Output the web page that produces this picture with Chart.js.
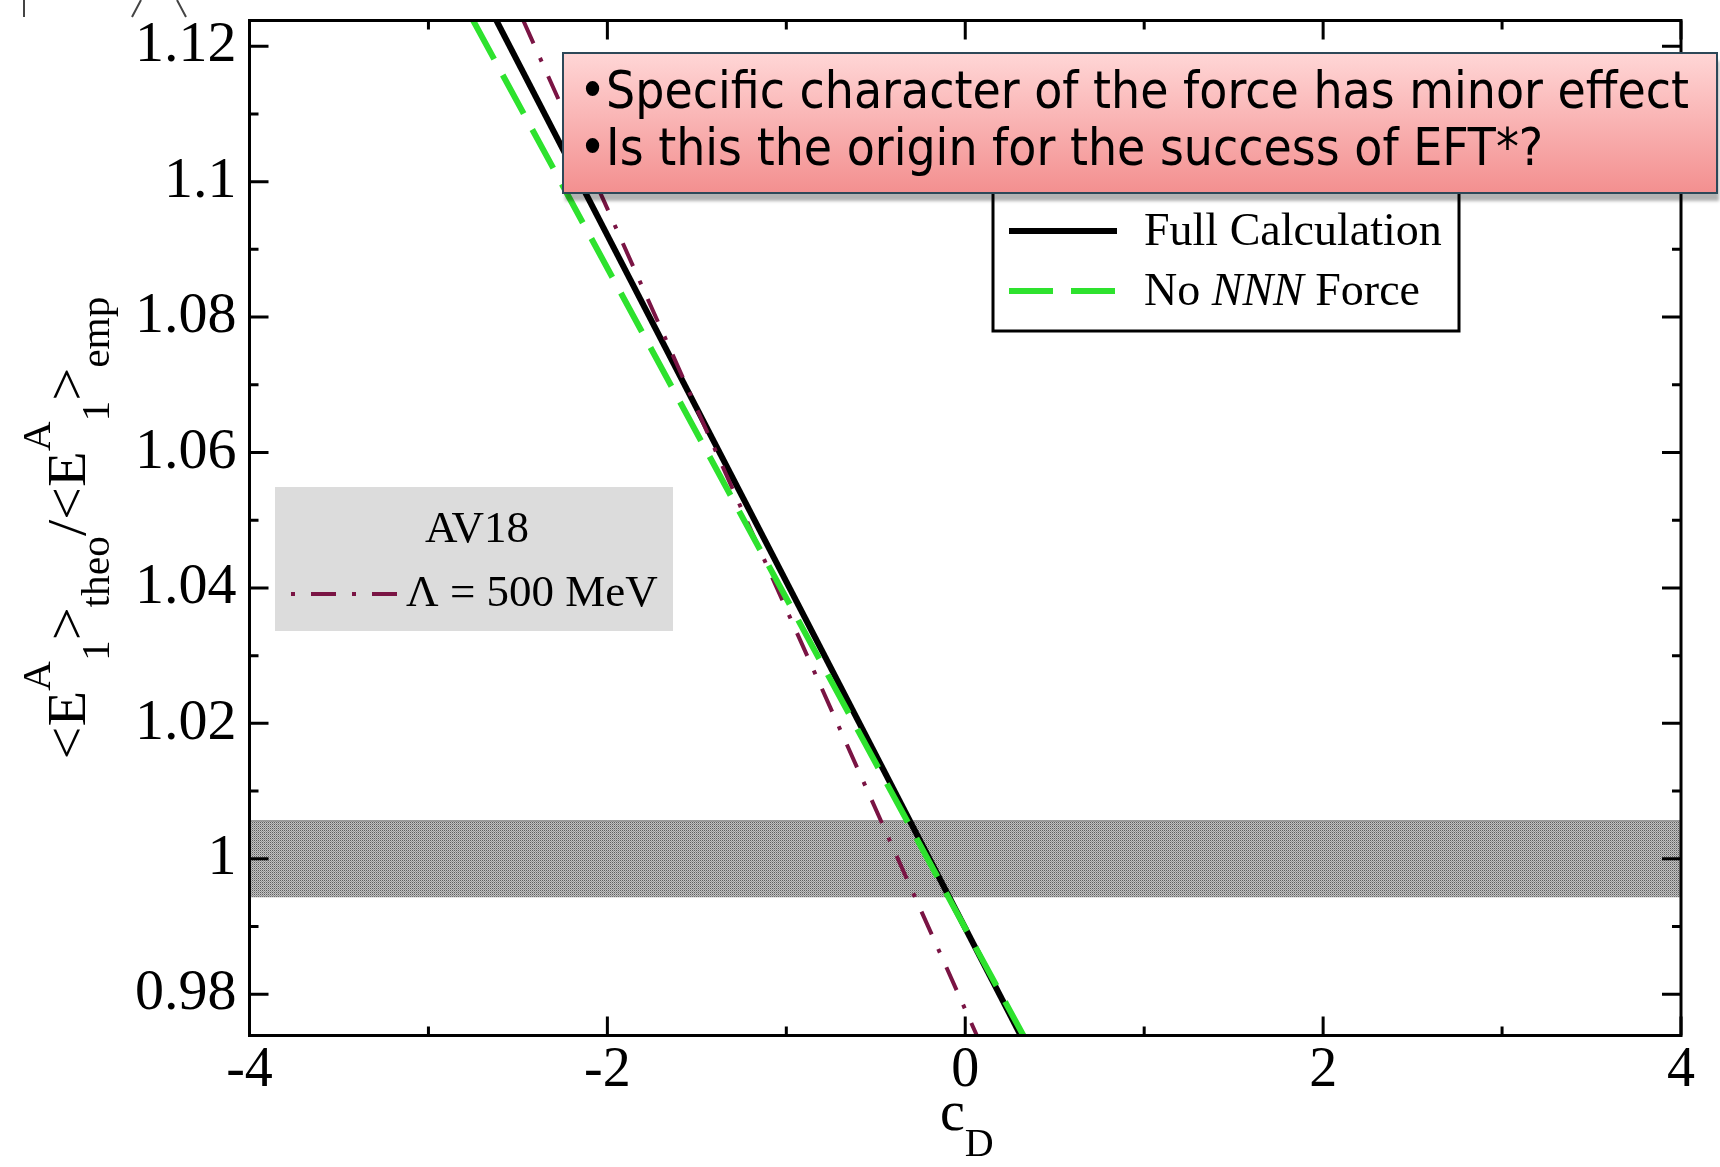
<!DOCTYPE html>
<html>
<head>
<meta charset="utf-8">
<script src="https://cdn.jsdelivr.net/npm/chart.js@4.4.1/dist/chart.umd.min.js"></script>
<style>
  html, body { margin: 0; padding: 0; background: #fff; }
  #wrap { width: 1720px; height: 1167px; position: relative; }
</style>
</head>
<body>
<div id="wrap"><canvas id="chart"></canvas></div>
<script>
const serif = '"Liberation Serif", "Times New Roman", serif';

// axes
const xRange = [-4, 4];
const yRange = [0.9739, 1.1238];
const xTicks = [-4, -2, 0, 2, 4];
const xMinorTicks = [-3, -1, 1, 3];
const yTicks = [0.98, 1.0, 1.02, 1.04, 1.06, 1.08, 1.10, 1.12];
const yTickLabels = ['0.98', '1', '1.02', '1.04', '1.06', '1.08', '1.1', '1.12'];
const yMinorTicks = [0.99, 1.01, 1.03, 1.05, 1.07, 1.09, 1.11];

// lines, [c_D, ratio]
const fullCalc = [[-2.62, 1.1238], [0.31, 0.9739]];
const noNNN = [[-2.75, 1.1238], [0.325, 0.9739]];
const lambda500 = [[-2.47, 1.1238], [0.065, 0.9739]];

// experimental band
const bandCD = [-4, 4];
const bandUpper = [1.0056, 1.0056];
const bandLower = [0.9944, 0.9944];

const noteLines = ['•Specific character of the force has minor effect', '•Is this the origin for the success of EFT*?'];

const pts = arr => arr.map(([x, y]) => ({ x, y }));

function makePattern() {
  const c = document.createElement('canvas');
  c.width = 2; c.height = 2;
  const g = c.getContext('2d');
  g.fillStyle = '#c2c2c2'; g.fillRect(0, 0, 2, 2);
  g.fillStyle = '#5e5e5e'; g.fillRect(0, 0, 1, 1);
  g.fillStyle = '#949494'; g.fillRect(1, 1, 1, 1);
  return g.createPattern(c, 'repeat');
}

function sample(ctx, ds, x0, x1, y, offset) {
  ctx.save();
  ctx.strokeStyle = ds.borderColor;
  ctx.lineWidth = ds.borderWidth;
  ctx.setLineDash(ds.borderDash || []);
  ctx.lineDashOffset = offset || 0;
  ctx.beginPath(); ctx.moveTo(x0, y); ctx.lineTo(x1, y); ctx.stroke();
  ctx.restore();
}

// text with sub/superscripts, parts = [text, level]; centred on 0 unless left given
function drawRich(ctx, parts, big, small, opts) {
  const fontFor = l => (l === 0 ? big : small) + 'px ' + serif;
  let w = 0;
  parts.forEach(([t, l]) => { ctx.font = fontFor(l); w += ctx.measureText(t).width; });
  const s = opts.target ? opts.target / w : 1;
  ctx.scale(s, 1);
  let x = opts.left != null ? opts.left / s : -w / 2;
  ctx.textBaseline = 'alphabetic';
  parts.forEach(([t, l]) => {
    ctx.font = fontFor(l);
    const dy = l === 1 ? -opts.up : l === -1 ? opts.down : 0;
    ctx.fillText(t, x, dy);
    x += ctx.measureText(t).width;
  });
}

const frame = {
  id: 'frame',
  afterDatasetsDraw(chart) {
    const { ctx, chartArea: a, scales: { x, y } } = chart;
    ctx.save();
    ctx.strokeStyle = '#000';
    ctx.lineWidth = 3;
    ctx.beginPath();
    const xt = (v, len) => {
      const p = x.getPixelForValue(v);
      ctx.moveTo(p, a.bottom); ctx.lineTo(p, a.bottom - len);
      ctx.moveTo(p, a.top); ctx.lineTo(p, a.top + len);
    };
    const yt = (v, len) => {
      const p = y.getPixelForValue(v);
      ctx.moveTo(a.left, p); ctx.lineTo(a.left + len, p);
      ctx.moveTo(a.right, p); ctx.lineTo(a.right - len, p);
    };
    xTicks.forEach(v => xt(v, 19));
    xMinorTicks.forEach(v => xt(v, 9));
    yTicks.forEach(v => yt(v, 19));
    yMinorTicks.forEach(v => yt(v, 9));
    ctx.stroke();
    ctx.strokeRect(a.left, a.top, a.right - a.left, a.bottom - a.top);
    ctx.restore();
  },
  afterDraw(chart) {
    const ctx = chart.ctx;
    const ds = chart.data.datasets;

    // bits of the previous figure poking in at the top left
    ctx.save();
    ctx.strokeStyle = '#444'; ctx.lineWidth = 2;
    ctx.beginPath();
    ctx.moveTo(24, 0); ctx.lineTo(24, 17);
    ctx.moveTo(132, 17); ctx.lineTo(141, 0);
    ctx.moveTo(177, 0); ctx.lineTo(186, 17);
    ctx.stroke();
    ctx.restore();

    // y title
    ctx.save();
    ctx.fillStyle = '#000';
    ctx.translate(85, 528);
    ctx.rotate(-Math.PI / 2);
    drawRich(ctx, [['<E', 0], ['A', 1], ['1', -1], ['>', 0], ['theo', -1], ['/<E', 0], ['A', 1], ['1', -1], ['>', 0], ['emp', -1]],
      55, 39, { target: 463, up: 35, down: 24 });
    ctx.restore();

    // x title
    ctx.save();
    ctx.fillStyle = '#000';
    ctx.translate(0, 1130);
    drawRich(ctx, [['c', 0], ['D', -1]], 56, 40, { left: 940, up: 0, down: 26 });
    ctx.restore();

    // AV18 legend
    ctx.save();
    ctx.fillStyle = '#dcdcdc';
    ctx.fillRect(275, 487, 398, 144);
    ctx.fillStyle = '#000';
    ctx.font = '45px ' + serif;
    ctx.textBaseline = 'middle';
    ctx.textAlign = 'center';
    ctx.fillText('AV18', 477, 530);
    ctx.textAlign = 'left';
    ctx.fillText('Λ = 500 MeV', 406, 594);
    ctx.restore();
    sample(ctx, ds[2], 291, 397, 594, 41);

    // main legend
    ctx.save();
    ctx.fillStyle = '#fff';
    ctx.fillRect(993, 175, 466, 156);
    ctx.strokeStyle = '#000'; ctx.lineWidth = 3;
    ctx.strokeRect(993, 175, 466, 156);
    ctx.restore();
    sample(ctx, ds[0], 1009, 1117, 231);
    sample(ctx, ds[1], 1009, 1117, 291);
    ctx.save();
    ctx.fillStyle = '#000';
    ctx.textBaseline = 'middle';
    ctx.font = '46px ' + serif;
    ctx.fillText('Full Calculation', 1144, 233);
    let tx = 1144;
    ctx.fillText('No ', tx, 293); tx += ctx.measureText('No ').width;
    ctx.font = 'italic 46px ' + serif;
    ctx.fillText('NNN', tx, 293); tx += ctx.measureText('NNN').width;
    ctx.font = '46px ' + serif;
    ctx.fillText(' Force', tx, 293);
    ctx.restore();

    // note box
    ctx.save();
    ctx.shadowColor = 'rgba(0,0,0,0.3)';
    ctx.shadowOffsetX = 2; ctx.shadowOffsetY = 8; ctx.shadowBlur = 3;
    const g = ctx.createLinearGradient(0, 53, 0, 193);
    g.addColorStop(0, '#ffd6d6');
    g.addColorStop(1, '#f38f8f');
    ctx.fillStyle = g;
    ctx.fillRect(563, 53, 1154, 140);
    ctx.restore();
    ctx.save();
    ctx.strokeStyle = '#2d4858'; ctx.lineWidth = 2;
    ctx.strokeRect(563, 53, 1154, 140);
    ctx.fillStyle = '#000';
    ctx.font = '51px "DejaVu Sans", sans-serif';
    ctx.textBaseline = 'alphabetic';
    const sx = 1110 / ctx.measureText(noteLines[0]).width;
    ctx.translate(579, 0);
    ctx.scale(sx, 1);
    ctx.fillText(noteLines[0], 0, 108);
    ctx.fillText(noteLines[1], 0, 165);
    ctx.restore();
  }
};

new Chart(document.getElementById('chart'), {
  type: 'scatter',
  data: {
    datasets: [
      { label: 'Full Calculation', data: pts(fullCalc), showLine: true, borderColor: '#000', borderWidth: 6,
        pointRadius: 0, order: 1, clip: 0 },
      { label: 'No NNN Force', data: pts(noNNN), showLine: true, borderColor: '#2ee22e', borderWidth: 6,
        borderDash: [44, 18], pointRadius: 0, order: 0, clip: 0 },
      { label: 'Λ = 500 MeV', data: pts(lambda500), showLine: true, borderColor: '#7a1444', borderWidth: 4,
        borderDash: [25, 16, 4, 16], pointRadius: 0, order: 0, clip: 0 },
      { label: 'band', data: bandCD.map((x, i) => ({ x, y: bandUpper[i] })), showLine: true, borderColor: '#777',
        borderWidth: 1, backgroundColor: makePattern(), fill: '+1', pointRadius: 0, order: 10, clip: 0 },
      { label: 'band low', data: bandCD.map((x, i) => ({ x, y: bandLower[i] })), showLine: true, borderColor: '#777',
        borderWidth: 1, pointRadius: 0, order: 10, clip: 0 }
    ]
  },
  options: {
    responsive: true,
    maintainAspectRatio: false,
    animation: false,
    layout: { padding: { left: 0, top: 20.5, right: 39, bottom: 0 } },
    plugins: { legend: { display: false }, tooltip: { enabled: false } },
    scales: {
      x: {
        type: 'linear', min: xRange[0], max: xRange[1],
        afterBuildTicks: s => { s.ticks = xTicks.map(v => ({ value: v })); },
        afterFit: s => { s.height = 131.5; s.paddingLeft = 0; s.paddingRight = 0; },
        grid: { display: false, drawTicks: false },
        border: { display: false },
        ticks: { color: '#000', font: { family: serif, size: 56, lineHeight: 1 }, padding: 8,
          maxRotation: 0, autoSkip: false, callback: v => String(v) }
      },
      y: {
        type: 'linear', min: yRange[0], max: yRange[1],
        afterBuildTicks: s => { s.ticks = yTicks.map(v => ({ value: v })); },
        afterFit: s => { s.width = 249.5; s.paddingTop = 0; s.paddingBottom = 0; },
        grid: { display: false, drawTicks: false },
        border: { display: false },
        ticks: { color: '#000', font: { family: serif, size: 58, lineHeight: 1 }, padding: 13,
          autoSkip: false, callback: (v, i) => yTickLabels[i] }
      }
    }
  },
  plugins: [frame]
});
</script>
</body>
</html>
